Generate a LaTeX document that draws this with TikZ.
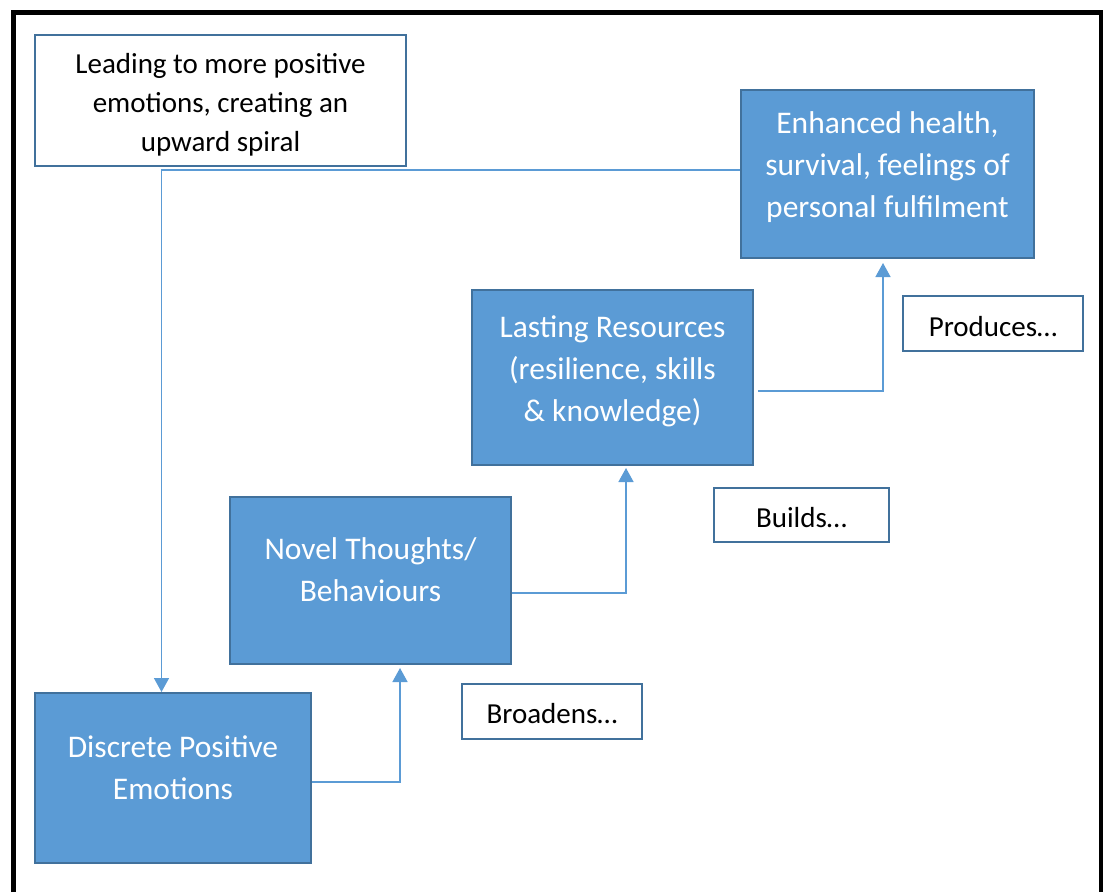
\documentclass[tikz,border=0pt]{standalone}
\usepackage{fontspec}
\setmainfont{Carlito}
\usetikzlibrary{arrows.meta,calc}
\definecolor{boxfill}{HTML}{5B9BD5}
\definecolor{boxline}{HTML}{41719C}
\definecolor{linkblue}{HTML}{5B9BD5}
\begin{document}
\begin{tikzpicture}[x=1pt,y=-1pt,
  bluebox/.style={draw=boxline,line width=2pt,fill=boxfill,inner sep=0pt},
  whitebox/.style={draw=boxline,line width=2.5pt,fill=white,inner sep=0pt},
  blacktext/.style={text=black,align=center,font=\fontsize{29}{39}\selectfont},
  bluetext/.style={text=white,align=center,font=\fontsize{31.5}{42}\selectfont},
  conn/.style={draw=linkblue,line width=1.5pt,
    -{Triangle[width=15pt,length=14pt]}}]
\useasboundingbox (0,0) rectangle (1103,892);
% outer frame, open at the bottom
\draw[line width=5pt] (13,892) -- (13,12) -- (1101,12) -- (1101,892);

% the four stages
\node[bluebox,minimum width=293pt,minimum height=168pt] (enh) at (887.5,174) {};
\node[bluetext] (enhT) at ($(enh.center)+(0,-7)$)
  {Enhanced health,\\survival, feelings of\\personal fulfilment};
\node[bluebox,minimum width=281pt,minimum height=175pt] (last) at (612.5,377.5) {};
\node[bluetext] (lastT) at ($(last.center)+(0,-6.5)$)
  {Lasting Resources\\(resilience, skills\\\& knowledge)};
\node[bluebox,minimum width=281pt,minimum height=167pt] (novel) at (370.5,580.5) {};
\node[bluetext] (novelT) at ($(novel.center)+(0,-10.5)$)
  {Novel Thoughts/\\Behaviours};
\node[bluebox,minimum width=276pt,minimum height=170pt] (disc) at (173,778) {};
\node[bluetext] (discT) at ($(disc.center)+(0,-10.5)$)
  {Discrete Positive\\Emotions};

% captions
\node[whitebox,minimum width=371pt,minimum height=131pt] (lead) at (220.5,100.5) {};
\node[blacktext] (leadT) at ($(lead.center)+(0,4.5)$)
  {Leading to more positive\\emotions, creating an\\upward spiral};
\node[whitebox,minimum width=180pt,minimum height=55pt] (prod) at (993,323.5) {};
\node[blacktext] (prodT) at ($(prod.center)+(0,3.5)$) {Produces…};
\node[whitebox,minimum width=175pt,minimum height=54pt] (build) at (801.5,515) {};
\node[blacktext] (buildT) at ($(build.center)+(0,3)$) {Builds…};
\node[whitebox,minimum width=180pt,minimum height=55pt] (broad) at (552,711.5) {};
\node[blacktext] (broadT) at ($(broad.center)+(0,2.5)$) {Broadens…};

% elbow connectors
\draw[conn,shorten >=3pt] ($(disc.east)+(0,4)$) -| ($(novel.south)+(29.5,0)$);
\draw[conn,shorten >=2pt] ($(novel.east)+(0,12.5)$) -| ($(last.south)+(13.5,0)$);
\draw[conn,shorten >=4pt] ($(last.east)+(4,13.5)$) -| ($(enh.south)+(-4.5,0)$);
\draw[conn] ($(enh.west)+(0,-4)$) -| ($(disc.north)+(-11.5,0)$);
\end{tikzpicture}
\end{document}
